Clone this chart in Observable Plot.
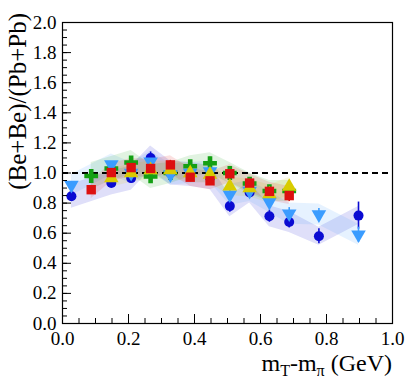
<!DOCTYPE html>
<html><head><meta charset="utf-8">
<script src="https://cdn.jsdelivr.net/npm/d3@7"></script>
<script src="https://cdn.jsdelivr.net/npm/@observablehq/plot@0.6"></script>
<style>body{margin:0;background:#fff}</style>
</head><body><div id="chart"></div>
<script>
// Axis ticks
const xLabels = [0, 0.2, 0.4, 0.6, 0.8, 1.0];
const xMinor = d3.range(0, 1.0001, 0.05);
const yLabels = [0, 0.2, 0.4, 0.6, 0.8, 1.0, 1.2, 1.4, 1.6, 1.8, 2.0];
const yMinor = d3.range(0, 2.0001, 0.05);
const refLine = [1.0];

// Series: dark blue circles
const circX = [0.027, 0.148, 0.208, 0.267, 0.327, 0.387, 0.447, 0.507, 0.567, 0.627, 0.687, 0.777, 0.897];
const circV = [0.845, 0.933, 0.966, 1.10, 1.00, 0.99, 0.97, 0.78, 0.87, 0.713, 0.675, 0.58, 0.717];
const circE = [0.03, 0.03, 0.03, 0.04, 0.03, 0.03, 0.03, 0.04, 0.03, 0.04, 0.04, 0.05, 0.09];
const circS = [0.08, 0.08, 0.08, 0.08, 0.08, 0.08, 0.08, 0.07, 0.07, 0.07, 0.07, 0.06, 0.06];

// light blue down triangles
const tdX = [0.027, 0.148, 0.208, 0.267, 0.327, 0.387, 0.447, 0.507, 0.567, 0.627, 0.687, 0.777, 0.897];
const tdV = [0.92, 1.056, 1.0, 1.075, 0.99, 1.0, 1.01, 0.856, 0.88, 0.807, 0.73, 0.724, 0.59];
const tdE = [0.02, 0.02, 0.02, 0.03, 0.02, 0.02, 0.02, 0.03, 0.03, 0.03, 0.04, 0.04, 0.05];
const tdS = [0.07, 0.07, 0.07, 0.07, 0.07, 0.07, 0.07, 0.07, 0.07, 0.07, 0.07, 0.07, 0.07];

// green crosses
const crX = [0.087, 0.148, 0.208, 0.267, 0.327, 0.387, 0.447, 0.507, 0.567, 0.627, 0.687];
const crV = [0.98, 1.03, 1.07, 0.977, 1.0, 1.045, 1.065, 1.0, 0.93, 0.88, 0.88];
const crE = [0.02, 0.03, 0.03, 0.03, 0.03, 0.03, 0.04, 0.03, 0.03, 0.03, 0.03];
const crS = [0.09, 0.08, 0.08, 0.08, 0.07, 0.07, 0.07, 0.07, 0.07, 0.07, 0.07];

// yellow up triangles
const tuX = [0.148, 0.208, 0.267, 0.327, 0.387, 0.447, 0.507, 0.567, 0.627, 0.687];
const tuV = [0.966, 0.999, 1.02, 1.02, 1.0, 0.99, 0.911, 0.90, 0.86, 0.91];
const tuE = [0.02, 0.02, 0.02, 0.02, 0.02, 0.02, 0.03, 0.03, 0.03, 0.04];
const tuS = [0.06, 0.06, 0.06, 0.06, 0.06, 0.06, 0.06, 0.06, 0.06, 0.06];

// red squares
const sqX = [0.087, 0.148, 0.208, 0.267, 0.327, 0.387, 0.447, 0.507, 0.567, 0.627, 0.687];
const sqV = [0.889, 1.003, 1.036, 1.03, 1.054, 0.972, 0.948, 0.995, 0.933, 0.878, 0.85];
const sqE = [0.02, 0.03, 0.03, 0.03, 0.03, 0.03, 0.03, 0.03, 0.03, 0.03, 0.04];
const sqS = [0.06, 0.06, 0.06, 0.06, 0.06, 0.06, 0.06, 0.06, 0.06, 0.06, 0.06];

const mk = (X, V, E, S) => X.map((x, i) => ({x, v: V[i], e: E[i], s: S[i]}));
const series = [
  {d: mk(crX, crV, crE, crS), color: "#14a014", symbol: "cross", rotate: 0, r: 5.8},
  {d: mk(circX, circV, circE, circS), color: "#0a0ad2", symbol: "circle", rotate: 0, r: 5},
  {d: mk(tdX, tdV, tdE, tdS), color: "#3a9cff", symbol: "triangle", rotate: 180, r: 5.4},
  {d: mk(tuX, tuV, tuE, tuS), color: "#d8cc00", symbol: "triangle", rotate: 0, r: 5.4},
  {d: mk(sqX, sqV, sqE, sqS), color: "#dd1010", symbol: "square", rotate: 0, r: 5.3}
];
const bandOrder = [series[1], series[2], series[0], series[3], series[4]];

const W = 407, H = 380, mL = 62, mR = 15, mT = 22, mB = 57;
const pw = W - mL - mR, ph = H - mT - mB;

const marks = [];
for (const s of bandOrder) {
  marks.push(Plot.areaY(s.d, {x: "x", y1: d => d.v - d.s, y2: d => d.v + d.s, fill: s.color, fillOpacity: 0.13, curve: "linear"}));
}
marks.push(Plot.ruleY(refLine, {stroke: "black", strokeWidth: 2, strokeDasharray: "6,4"}));
for (const s of series) {
  marks.push(Plot.ruleX(s.d, {x: "x", y1: d => d.v - d.e, y2: d => d.v + d.e, stroke: s.color, strokeWidth: 1.6}));
}
for (const s of series) {
  marks.push(Plot.dot(s.d, {x: "x", y: "v", symbol: () => s.symbol, r: s.r, fill: s.color, stroke: "none", rotate: s.rotate}));
}
// inner ticks
marks.push(Plot.tickX(xMinor, {x: d => d, insetTop: ph - 5, stroke: "black"}));
marks.push(Plot.tickX(xLabels, {x: d => d, insetTop: ph - 9, stroke: "black"}));
marks.push(Plot.tickY(yMinor, {y: d => d, insetRight: pw - 5, stroke: "black"}));
marks.push(Plot.tickY(yLabels, {y: d => d, insetRight: pw - 9, stroke: "black"}));
marks.push(Plot.axisX(xLabels, {tickSize: 0, tickPadding: 8, tickFormat: d => d.toFixed(1), label: null}));
marks.push(Plot.axisY(yLabels, {tickSize: 0, tickPadding: 6, tickFormat: d => d.toFixed(1), label: null}));
marks.push(Plot.frame({stroke: "black", strokeWidth: 1.2}));

const chart = Plot.plot({
  width: W, height: H,
  marginLeft: mL, marginRight: mR, marginTop: mT, marginBottom: mB,
  x: {domain: [0, 1]},
  y: {domain: [0, 2]},
  symbol: {type: "identity"},
  style: {fontFamily: "'Liberation Serif', serif", fontSize: "19px", color: "black", background: "white"},
  marks
});
document.getElementById("chart").appendChild(chart);

const svg = d3.select(chart);
// y title
svg.append("text")
  .attr("transform", "translate(26,13) rotate(-90)")
  .attr("text-anchor", "end")
  .attr("font-family", "'Liberation Serif', serif")
  .attr("font-size", 25)
  .attr("fill", "black")
  .text("(Be+Be)/(Pb+Pb)");
// x title
const xt = svg.append("text")
  .attr("x", 392).attr("y", 371)
  .attr("text-anchor", "end")
  .attr("font-family", "'Liberation Serif', serif")
  .attr("font-size", 24)
  .attr("fill", "black");
xt.append("tspan").text("m");
xt.append("tspan").attr("font-size", 16).attr("dy", 5).text("T");
xt.append("tspan").attr("dy", -5).text("-m");
xt.append("tspan").attr("font-size", 16).attr("dy", 5).text("π");
xt.append("tspan").attr("dy", -5).text(" (GeV)");
</script>
</body></html>
